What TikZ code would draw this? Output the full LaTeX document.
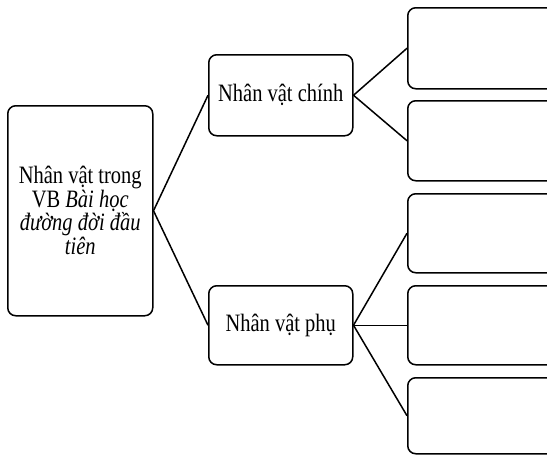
\documentclass[tikz,border=0pt]{standalone}
\usepackage{fontspec}
\setmainfont{Liberation Serif}[FakeStretch=0.82]
\begin{document}
\begin{tikzpicture}[x=1pt,y=-1pt,
  box/.style={draw,line width=1.5pt,rounded corners=8pt,rectangle,inner sep=0pt,anchor=north west},
  conn/.style={line width=1.5pt},
  txt/.style={font=\fontsize{25}{21.5}\selectfont}]
\useasboundingbox (0,0) rectangle (547,456);
\clip (0,0) rectangle (547,456);
\node[box,minimum width=145pt,minimum height=210pt,align=center,txt] (L) at (7,105)
  {Nhân vật trong\\VB \textit{Bài học}\\\textit{đường đời đầu}\\\textit{tiên}};
\node[box,minimum width=144pt,minimum height=81pt,txt] (M1) at (208,54) {Nhân vật chính};
\node[box,minimum width=144pt,minimum height=79pt,txt] (M2) at (208,285) {Nhân vật phụ};
\node[box,minimum width=155pt,minimum height=81pt] (R1) at (407,7) {};
\node[box,minimum width=155pt,minimum height=80pt] (R2) at (407,100) {};
\node[box,minimum width=155pt,minimum height=79pt] (R3) at (407,193) {};
\node[box,minimum width=155pt,minimum height=79pt] (R4) at (407,285) {};
\node[box,minimum width=155pt,minimum height=76pt] (R5) at (407,377) {};
\draw[conn] (M1.west) -- (L.east) -- (M2.west);
\draw[conn] (R1.west) -- (M1.east) -- (R2.west);
\draw[conn] (R3.west) -- (M2.east) -- (R5.west);
\draw[conn] (M2.east) -- (R4.west);
\end{tikzpicture}
\end{document}
